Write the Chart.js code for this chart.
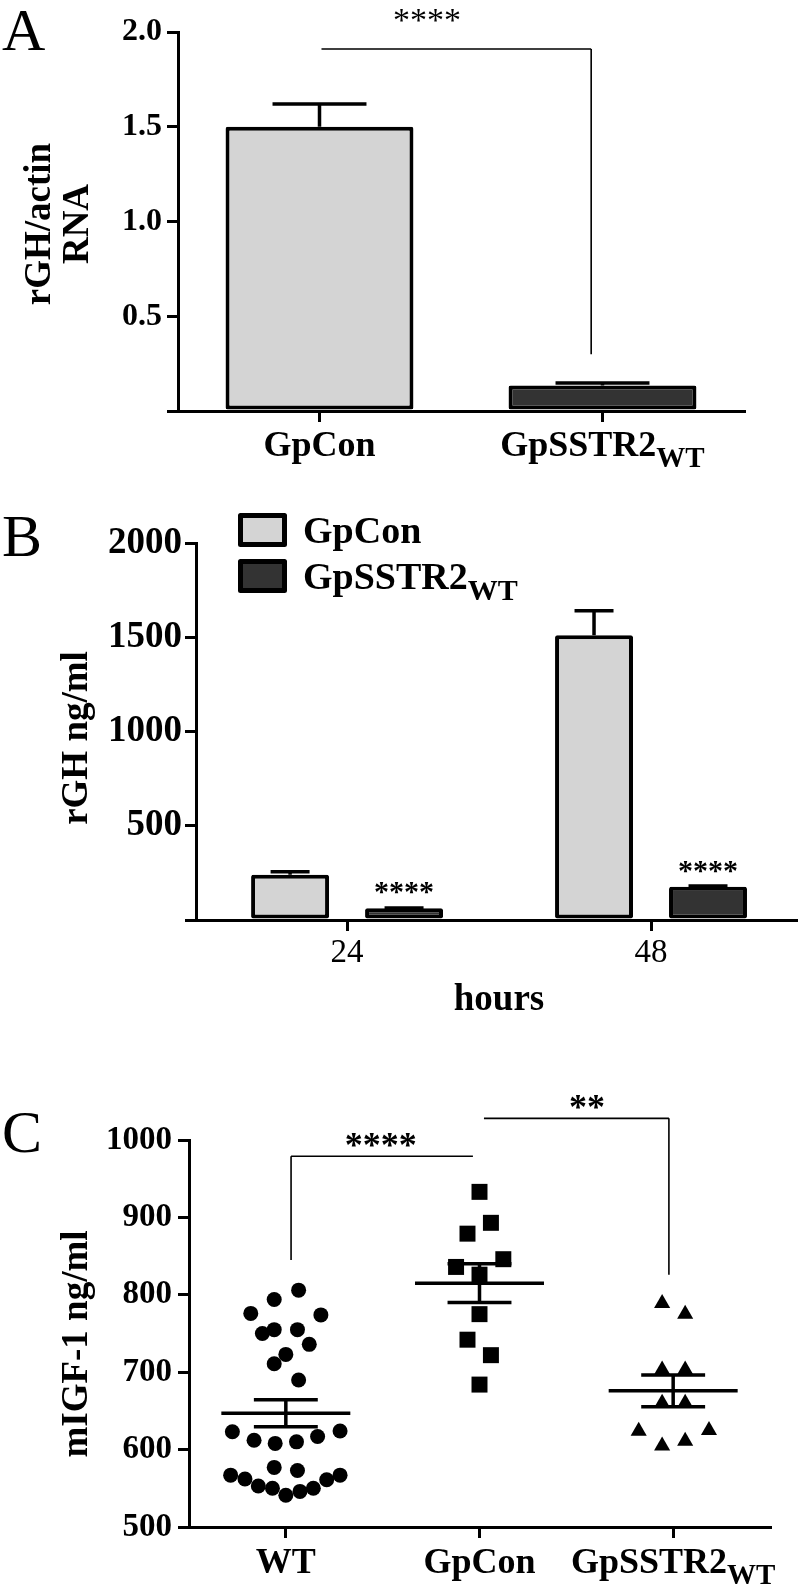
<!DOCTYPE html>
<html>
<head>
<meta charset="utf-8">
<script src="https://cdn.jsdelivr.net/npm/chart.js@4.4.1/dist/chart.umd.min.js"></script>
<style>
  html, body { margin: 0; padding: 0; background: #fff; }
  #fig { position: relative; width: 810px; height: 1584px; overflow: hidden; }
  .panel { position: absolute; left: 0; width: 810px; }
  canvas { display: block; }
</style>
</head>
<body>
<div id="fig">
  <div class="panel" style="top:0;height:480px"><canvas id="chartA" width="810" height="480"></canvas></div>
  <div class="panel" style="top:490px;height:530px"><canvas id="chartB" width="810" height="530"></canvas></div>
  <div class="panel" style="top:1030px;height:554px"><canvas id="chartC" width="810" height="554"></canvas></div>
</div>
<script>
// ── data ────────────────────────────────────────────────
// A) rGH/actin RNA
const groupsA = ['GpCon', 'GpSSTR2'];
const rnaMean = [1.5, 0.135];
const rnaErrTop = [1.62, 0.148];

// B) rGH ng/ml by hours
const hoursB = ['24', '48'];
const gpConB = [240, 1510];
const gpConBErrTop = [256, 1640];
const sstrB = [62, 177];
const sstrBErrTop = [64, 180];

// C) mIGF-1 ng/ml, individual animals (jitter = horizontal spread in category units)
const groupsC = ['WT', 'GpCon', 'GpSSTR2'];
const wtVals = [806, 794, 776, 774, 750, 755, 755, 736, 723, 711, 690,
                623, 612, 608, 610, 617, 624, 577, 573,
                567, 562, 553, 550, 541, 546, 550, 561, 567];
const wtJitter = [0.066, -0.060, -0.181, 0.181, -0.121, -0.060, 0.060, 0.121, 0, -0.060, 0.066,
                  -0.276, -0.164, -0.055, 0.055, 0.164, 0.280, -0.060, 0.060,
                  -0.285, -0.211, -0.142, -0.069, 0, 0.073, 0.142, 0.211, 0.280];
const conVals = [933, 893, 879, 846, 836, 826, 775, 742, 722, 684];
const conJitter = [0, 0.059, -0.062, 0.123, -0.121, 0, 0, -0.062, 0.059, 0];
const sstrVals = [789, 775, 703, 703, 660, 660, 624, 625, 611, 605];
const sstrJitter = [-0.057, 0.062, -0.057, 0.062, -0.057, 0.062, -0.178, 0.185, 0.062, -0.057];
const meanC = [647, 815, 676];
const semC = [17.5, 25, 20.5];

// ── style ───────────────────────────────────────────────
const FONT = '"Liberation Serif", "Times New Roman", Times, serif';
const LIGHT = '#d4d4d4';
const DARK = '#333333';

function yLin(min, max, step, width, size, pad, fmt) {
  return {
    min, max,
    ticks: { stepSize: step, color: '#000', padding: pad, font: { family: FONT, weight: 'bold', size }, callback: fmt },
    grid: { drawOnChartArea: false, color: '#000', lineWidth: 3, tickLength: 11 },
    border: { display: true, color: '#000', width: 3 },
    afterFit: (s) => { s.width = width; },
  };
}
function xCat(height) {
  return {
    ticks: { display: false },
    grid: { offset: false, drawOnChartArea: false, color: '#000', lineWidth: 3, tickLength: 11 },
    border: { display: true, color: '#000', width: 3 },
    afterFit: (s) => { s.height = height; },
  };
}

// label with optional subscript, y = baseline
function subLabel(ctx, main, sub, x, y, size, align) {
  ctx.save();
  ctx.fillStyle = '#000';
  ctx.textBaseline = 'alphabetic';
  ctx.textAlign = 'left';
  const subSize = Math.round(size * 0.8);
  ctx.font = 'bold ' + size + 'px ' + FONT;
  const w1 = ctx.measureText(main).width;
  let w2 = 0;
  if (sub) { ctx.font = 'bold ' + subSize + 'px ' + FONT; w2 = ctx.measureText(sub).width; }
  const x0 = align === 'left' ? x : x - (w1 + w2) / 2;
  ctx.font = 'bold ' + size + 'px ' + FONT;
  ctx.fillText(main, x0, y);
  if (sub) { ctx.font = 'bold ' + subSize + 'px ' + FONT; ctx.fillText(sub, x0 + w1, y + size * 0.3); }
  ctx.restore();
}
function plain(ctx, s, x, y, font, align) {
  ctx.save();
  ctx.fillStyle = '#000';
  ctx.font = font;
  ctx.textAlign = align || 'center';
  ctx.textBaseline = 'alphabetic';
  ctx.fillText(s, x, y);
  ctx.restore();
}
function vTitle(ctx, s, x, y, size) {
  ctx.save();
  ctx.translate(x, y);
  ctx.rotate(-Math.PI / 2);
  ctx.fillStyle = '#000';
  ctx.font = 'bold ' + size + 'px ' + FONT;
  ctx.textAlign = 'center';
  ctx.textBaseline = 'alphabetic';
  ctx.fillText(s, 0, 0);
  ctx.restore();
}
// stars centred on (x, yc)
function stars(ctx, s, x, yc, size, bold) {
  plain(ctx, s, x, yc + size * 0.47, (bold ? 'bold ' : '') + size + 'px ' + FONT, 'center');
}
function segs(ctx, pts, w) {
  ctx.save();
  ctx.strokeStyle = '#000';
  ctx.lineWidth = w;
  ctx.beginPath();
  for (const [x1, y1, x2, y2] of pts) { ctx.moveTo(x1, y1); ctx.lineTo(x2, y2); }
  ctx.stroke();
  ctx.restore();
}

const errorBars = {
  id: 'errorBars',
  afterDatasetsDraw(chart) {
    const y = chart.scales.y;
    chart.data.datasets.forEach((ds, di) => {
      if (!ds.errTop) return;
      chart.getDatasetMeta(di).data.forEach((bar, i) => {
        const top = y.getPixelForValue(ds.errTop[i]);
        const half = bar.width / 4;
        segs(chart.ctx, [[bar.x, bar.y, bar.x, top], [bar.x - half, top, bar.x + half, top]], 3.5);
      });
    });
  },
};

const base = {
  animation: false,
  responsive: false,
  events: [],
};

// ── A ───────────────────────────────────────────────────
new Chart(document.getElementById('chartA'), {
  type: 'bar',
  data: {
    labels: groupsA,
    datasets: [{
      data: rnaMean, errTop: rnaErrTop,
      backgroundColor: [LIGHT, DARK], borderColor: '#000', borderWidth: 4,
      borderSkipped: false, borderRadius: 2,
      categoryPercentage: 1, barPercentage: 0.664,
    }],
  },
  options: {
    ...base,
    layout: { padding: { top: 32, right: 66, left: 0, bottom: 0 } },
    plugins: { legend: { display: false }, tooltip: { enabled: false } },
    scales: {
      x: xCat(69),
      y: yLin(0, 2, 0.5, 178, 32, 5, (v) => (v === 0 ? '' : v.toFixed(1))),
    },
  },
  plugins: [errorBars, {
    id: 'decorA',
    afterDraw(chart) {
      const { ctx, scales: { x, y } } = chart;
      // bracket + significance
      const bx2 = x.getPixelForValue(0.96);
      segs(ctx, [[x.getPixelForValue(0.007), y.getPixelForValue(1.91), bx2, y.getPixelForValue(1.91)],
                 [bx2, y.getPixelForValue(1.91), bx2, y.getPixelForValue(0.30)]], 1.6);
      stars(ctx, '****', x.getPixelForValue(0.38), y.getPixelForValue(2.09), 34, false);
      // category labels
      subLabel(ctx, 'GpCon', '', x.getPixelForValue(0), 456, 36);
      subLabel(ctx, 'GpSSTR2', 'WT', x.getPixelForValue(1), 456, 36);
      // axis title
      vTitle(ctx, 'rGH/actin', 50, 224, 37);
      vTitle(ctx, 'RNA', 88, 224, 37);
      plain(ctx, 'A', 2, 50, '60px ' + FONT, 'left');
    },
  }],
});

// ── B ───────────────────────────────────────────────────
const xy = (vals) => vals.map((v, i) => ({ x: i, y: v }));
new Chart(document.getElementById('chartB'), {
  type: 'bar',
  data: {
    datasets: [
      { label: 'GpCon', data: xy(gpConB), errTop: gpConBErrTop, backgroundColor: LIGHT },
      { label: 'GpSSTR2', data: xy(sstrB), errTop: sstrBErrTop, backgroundColor: DARK },
    ].map((d) => ({ ...d, borderColor: '#000', borderWidth: 4, borderSkipped: false, borderRadius: 2,
                    categoryPercentage: 0.75, barPercentage: 0.684 })),
  },
  options: {
    ...base,
    layout: { padding: { top: 53, right: 14, left: 0, bottom: 0 } },
    plugins: { legend: { display: false }, tooltip: { enabled: false } },
    scales: {
      x: {
        type: 'linear', min: -0.497, max: 1.477, offset: false,
        afterBuildTicks: (s) => { s.ticks = hoursB.map((_, i) => ({ value: i })); },
        ...xCat(100),
      },
      y: yLin(0, 2000, 500, 196, 37, 3, (v) => (v === 0 ? '' : String(v))),
    },
  },
  plugins: [errorBars, {
    id: 'decorB',
    afterDraw(chart) {
      const { ctx, scales: { x } } = chart;
      const off = 490;
      // significance over GpSSTR2 bars
      chart.getDatasetMeta(1).data.forEach((bar) => stars(ctx, '****', bar.x, bar.y - 21, 30, true));
      // hour labels
      hoursB.forEach((h, i) => plain(ctx, h, x.getPixelForValue(i), 962 - off, '33px ' + FONT, 'center'));
      plain(ctx, 'hours', 499, 1010 - off, 'bold 37px ' + FONT, 'center');
      // legend
      const boxes = [[LIGHT, 'GpCon', '', 513], [DARK, 'GpSSTR2', 'WT', 559]];
      boxes.forEach(([fill, t, sub, top]) => {
        ctx.save();
        ctx.fillStyle = fill;
        ctx.strokeStyle = '#000';
        ctx.lineWidth = 5;
        ctx.lineJoin = 'round';
        ctx.beginPath();
        ctx.rect(240.5, top - off + 2.5, 44, 29);
        ctx.fill();
        ctx.stroke();
        ctx.restore();
        subLabel(ctx, t, sub, 303, top - off + 30, 38, 'left');
      });
      vTitle(ctx, 'rGH ng/ml', 87, 738 - off, 37);
      plain(ctx, 'B', 2, 556 - off, '60px ' + FONT, 'left');
    },
  }],
});

// ── C ───────────────────────────────────────────────────
const pts = (vals, jit, c) => vals.map((v, i) => ({ x: c + jit[i], y: v }));
new Chart(document.getElementById('chartC'), {
  type: 'scatter',
  data: {
    datasets: [
      { data: pts(wtVals, wtJitter, 1), pointStyle: 'circle', pointRadius: 7.5 },
      { data: pts(conVals, conJitter, 2), pointStyle: 'rect', pointRadius: 11.3 },
      { data: pts(sstrVals, sstrJitter, 3), pointStyle: 'triangle', pointRadius: 9.3 },
    ].map((d) => ({ ...d, backgroundColor: '#000', borderColor: '#000', borderWidth: 0, clip: false })),
  },
  options: {
    ...base,
    layout: { padding: { top: 110, right: 40, left: 0, bottom: 0 } },
    plugins: { legend: { display: false }, tooltip: { enabled: false } },
    scales: {
      x: {
        type: 'linear', min: 0.5, max: 3.5,
        afterBuildTicks: (s) => { s.ticks = groupsC.map((_, i) => ({ value: i + 1 })); },
        ...xCat(57),
      },
      y: yLin(500, 1000, 100, 189, 33, 6, (v) => String(v)),
    },
  },
  plugins: [{
    id: 'decorC',
    afterDatasetsDraw(chart) {
      const { ctx, scales: { x, y } } = chart;
      meanC.forEach((m, i) => {
        const c = i + 1;
        const ym = y.getPixelForValue(m), yl = y.getPixelForValue(m - semC[i]), yh = y.getPixelForValue(m + semC[i]);
        segs(ctx, [
          [x.getPixelForValue(c - 0.333), ym, x.getPixelForValue(c + 0.333), ym],
          [x.getPixelForValue(c), yl, x.getPixelForValue(c), yh],
          [x.getPixelForValue(c - 0.165), yl, x.getPixelForValue(c + 0.165), yl],
          [x.getPixelForValue(c - 0.165), yh, x.getPixelForValue(c + 0.165), yh],
        ], 3.5);
      });
    },
    afterDraw(chart) {
      const { ctx, scales: { x, y } } = chart;
      const off = 1030;
      // brackets
      const b1x = x.getPixelForValue(1.027), b1y = y.getPixelForValue(979);
      segs(ctx, [[b1x, b1y, x.getPixelForValue(1.966), b1y], [b1x, b1y, b1x, y.getPixelForValue(845)]], 1.6);
      const b2x = x.getPixelForValue(2.978), b2y = y.getPixelForValue(1028);
      segs(ctx, [[x.getPixelForValue(2.023), b2y, b2x, b2y], [b2x, b2y, b2x, y.getPixelForValue(826)]], 1.6);
      stars(ctx, '****', x.getPixelForValue(1.49), y.getPixelForValue(1000), 36, true);
      stars(ctx, '**', x.getPixelForValue(2.555), y.getPixelForValue(1049), 36, true);
      // category labels
      subLabel(ctx, 'WT', '', x.getPixelForValue(1), 1573 - off, 36);
      subLabel(ctx, 'GpCon', '', x.getPixelForValue(2), 1573 - off, 36);
      subLabel(ctx, 'GpSSTR2', 'WT', x.getPixelForValue(3), 1573 - off, 36);
      vTitle(ctx, 'mIGF-1 ng/ml', 87, 1344 - off, 37);
      plain(ctx, 'C', 2, 1152 - off, '60px ' + FONT, 'left');
    },
  }],
});
</script>
</body>
</html>
